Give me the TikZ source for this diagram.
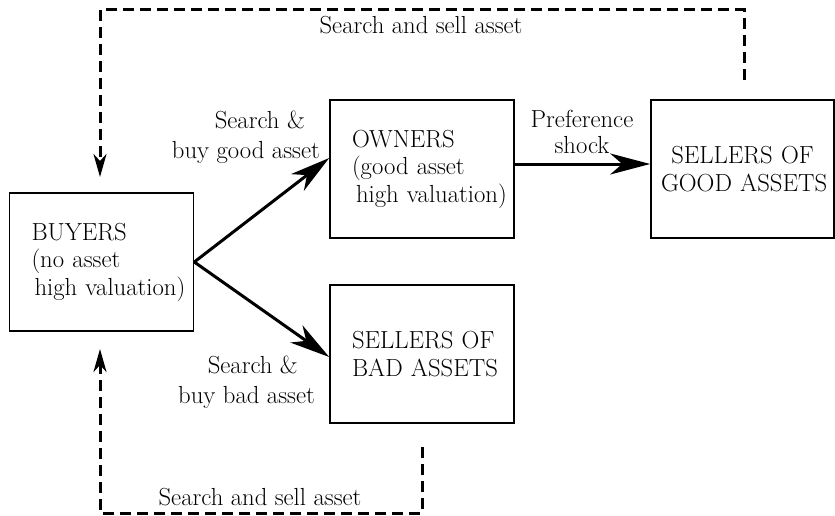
\documentclass[tikz,border=0pt]{standalone}
\usetikzlibrary{arrows.meta}
\begin{document}
\begin{tikzpicture}[x=1pt,y=-1pt,
  every node/.style={font=\fontsize{24.7}{27.5}\selectfont, inner sep=0pt},
  box/.style={draw, line width=1.6pt, text width=140pt, inner xsep=22pt, inner ysep=0pt,
    minimum height=138pt, align=left, font=\fontsize{24.7}{27.5}\selectfont},
  cbox/.style={box, text width=163pt, inner xsep=10pt, align=center},
  flow/.style={line width=3pt, -{Stealth[length=40pt,width=21pt,inset=12pt]}},
  dasharrow/.style={line width=3pt, dash pattern=on 11pt off 6pt,
    -{Stealth[length=23pt,width=13pt,inset=7pt]}},
  lbl/.style={font=\fontsize{24.7}{30}\selectfont}
]
\useasboundingbox (0,0) rectangle (835,516);

\node[box] (buyers) at (101.5,262) {\mbox{BUYERS}\\\mbox{(no asset}\\\mbox{\hspace*{3pt}high valuation)}};
\node[box] (owners) at (422,169) {\mbox{OWNERS}\\\mbox{(good asset}\\\mbox{\hspace*{4pt}high valuation)}};
\node[cbox] (goodsell) at (742.5,169) {\mbox{SELLERS OF}\\\mbox{GOOD ASSETS}};
\node[box] (badsell) at (422,354) {\mbox{SELLERS OF}\\\mbox{BAD ASSETS}};

\draw[flow] (buyers.east) -- ([yshift=11pt]owners.west);
\draw[flow] (buyers.east) -- ([yshift=-3pt]badsell.west);
\draw[flow] ([yshift=5pt]owners.east) -- ([yshift=5pt]goodsell.west);

\node[lbl, align=right, anchor=east] (lgood) at (320,137) {Search \&\hspace*{15pt}\null\\buy good asset};
\node[lbl, align=right, anchor=east] (lbad) at (315,382) {Search \&\hspace*{17pt}\null\\buy bad asset};
\node[align=center, font=\fontsize{24.7}{26}\selectfont] (lpref) at (582,132) {Preference\\shock};

\coordinate (topfrom) at (744,80);
\coordinate (topcorner) at (100,10);
\coordinate (topto) at (100,177);
\draw[dasharrow] (topfrom) |- (topcorner) -- (topto);
\node[anchor=base] (ltop) at (421,34) {Search and sell asset};

\coordinate (botfrom) at (422,447);
\coordinate (botcorner) at (100,513);
\coordinate (botto) at (100,349);
\draw[dasharrow] (botfrom) |- (botcorner) -- (botto);
\node[anchor=base] (lbot) at (260,505) {Search and sell asset};
\end{tikzpicture}
\end{document}
